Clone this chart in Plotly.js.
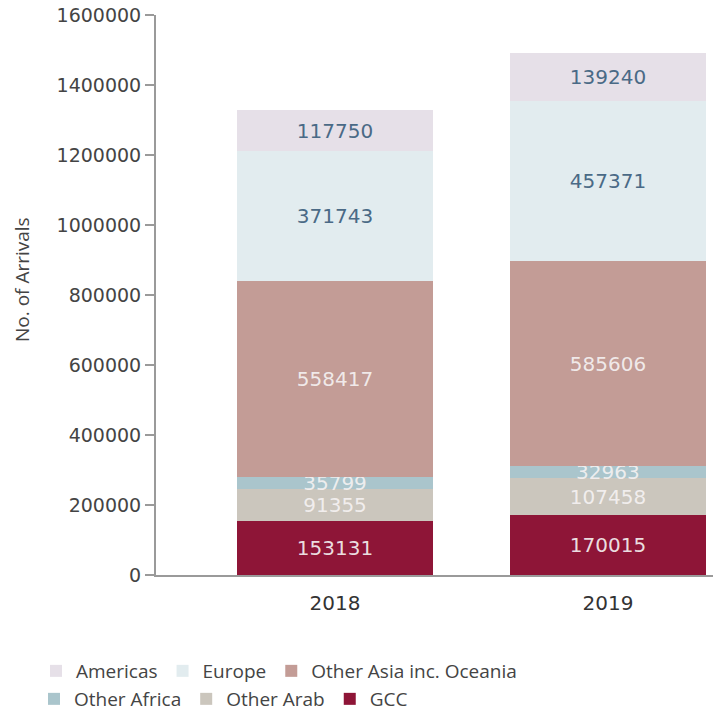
<!DOCTYPE html>
<html>
<head>
<meta charset="utf-8">
<script src="https://cdn.plot.ly/plotly-3.0.1.min.js"></script>
<style>html,body{margin:0;padding:0;background:#fff;}#chart{width:713px;height:712px;}</style>
</head>
<body>
<div id="chart"></div>
<script>
// Data
var years = ['2018', '2019'];
var gcc = [153131, 170015];
var otherArab = [91355, 107458];
var otherAfrica = [35799, 32963];
var otherAsia = [558417, 585606];
var europe = [371743, 457371];
var americas = [117750, 139240];
var yTicks = [0, 200000, 400000, 600000, 800000, 1000000, 1200000, 1400000, 1600000];
var yTitle = 'No. of Arrivals';

var numFont = 'DejaVu Sans, sans-serif';
var txtFont = 'Open Sans, sans-serif';

function series(name, vals, color, textColor, legendName) {
  return {
    type: 'bar', name: name, x: years, y: vals,
    text: vals.map(String), textposition: 'inside', insidetextanchor: 'middle',
    constraintext: 'none', cliponaxis: false,
    textfont: {family: numFont, size: 20, color: textColor},
    marker: {color: color, line: {width: 0}},
    width: 0.72, legend: legendName
  };
}

var light = 'rgba(245,242,242,0.92)';
var blue = '#4a6a86';
var traces = [
  series('GCC', gcc, '#8e1537', light, 'legend2'),
  series('Other Arab', otherArab, '#cbc6bd', light, 'legend2'),
  series('Other Africa', otherAfrica, '#aac5cc', light, 'legend2'),
  series('Other Asia inc. Oceania', otherAsia, '#c39c96', light, 'legend'),
  series('Europe', europe, '#e2ecef', blue, 'legend'),
  series('Americas', americas, '#e6e0e8', blue, 'legend')
];

var legendBase = {
  orientation: 'h', traceorder: 'reversed',
  xref: 'container', yref: 'container', xanchor: 'left', yanchor: 'middle',
  font: {family: txtFont, size: 19, color: '#444'},
  bgcolor: 'rgba(0,0,0,0)', borderwidth: 0, itemwidth: 30
};

var layout = {
  width: 713, height: 712,
  margin: {l: 156, r: 0, t: 15, b: 137},
  paper_bgcolor: '#fff', plot_bgcolor: '#fff',
  barmode: 'stack',
  showlegend: true,
  legend: Object.assign({}, legendBase, {x: 36 / 713, y: 1 - 671 / 712}),
  legend2: Object.assign({}, legendBase, {x: 34 / 713, y: 1 - 699 / 712}),
  xaxis: {
    type: 'category', range: [-0.656, 1.385],
    showline: true, linecolor: '#9a9a9a', linewidth: 2,
    ticks: '', showgrid: false, zeroline: false, ticklabelstandoff: 9,
    tickfont: {family: numFont, size: 20, color: '#333'}
  },
  yaxis: {
    range: [0, 1600000], tickvals: yTicks, tickformat: 'd',
    showline: true, linecolor: '#9a9a9a', linewidth: 2,
    ticks: 'outside', ticklen: 9, tickwidth: 2, tickcolor: '#9a9a9a',
    showgrid: false, zeroline: false,
    tickfont: {family: numFont, size: 19, color: '#444'}
  },
  annotations: [{
    text: yTitle, textangle: -90, showarrow: false,
    xref: 'paper', yref: 'paper',
    x: (22 - 156) / 557, y: (575 - 280) / 560, xanchor: 'center', yanchor: 'middle',
    font: {family: txtFont, size: 19, color: '#444'}
  }]
};

Plotly.newPlot('chart', traces, layout, {displayModeBar: false, staticPlot: true});
</script>
</body>
</html>
